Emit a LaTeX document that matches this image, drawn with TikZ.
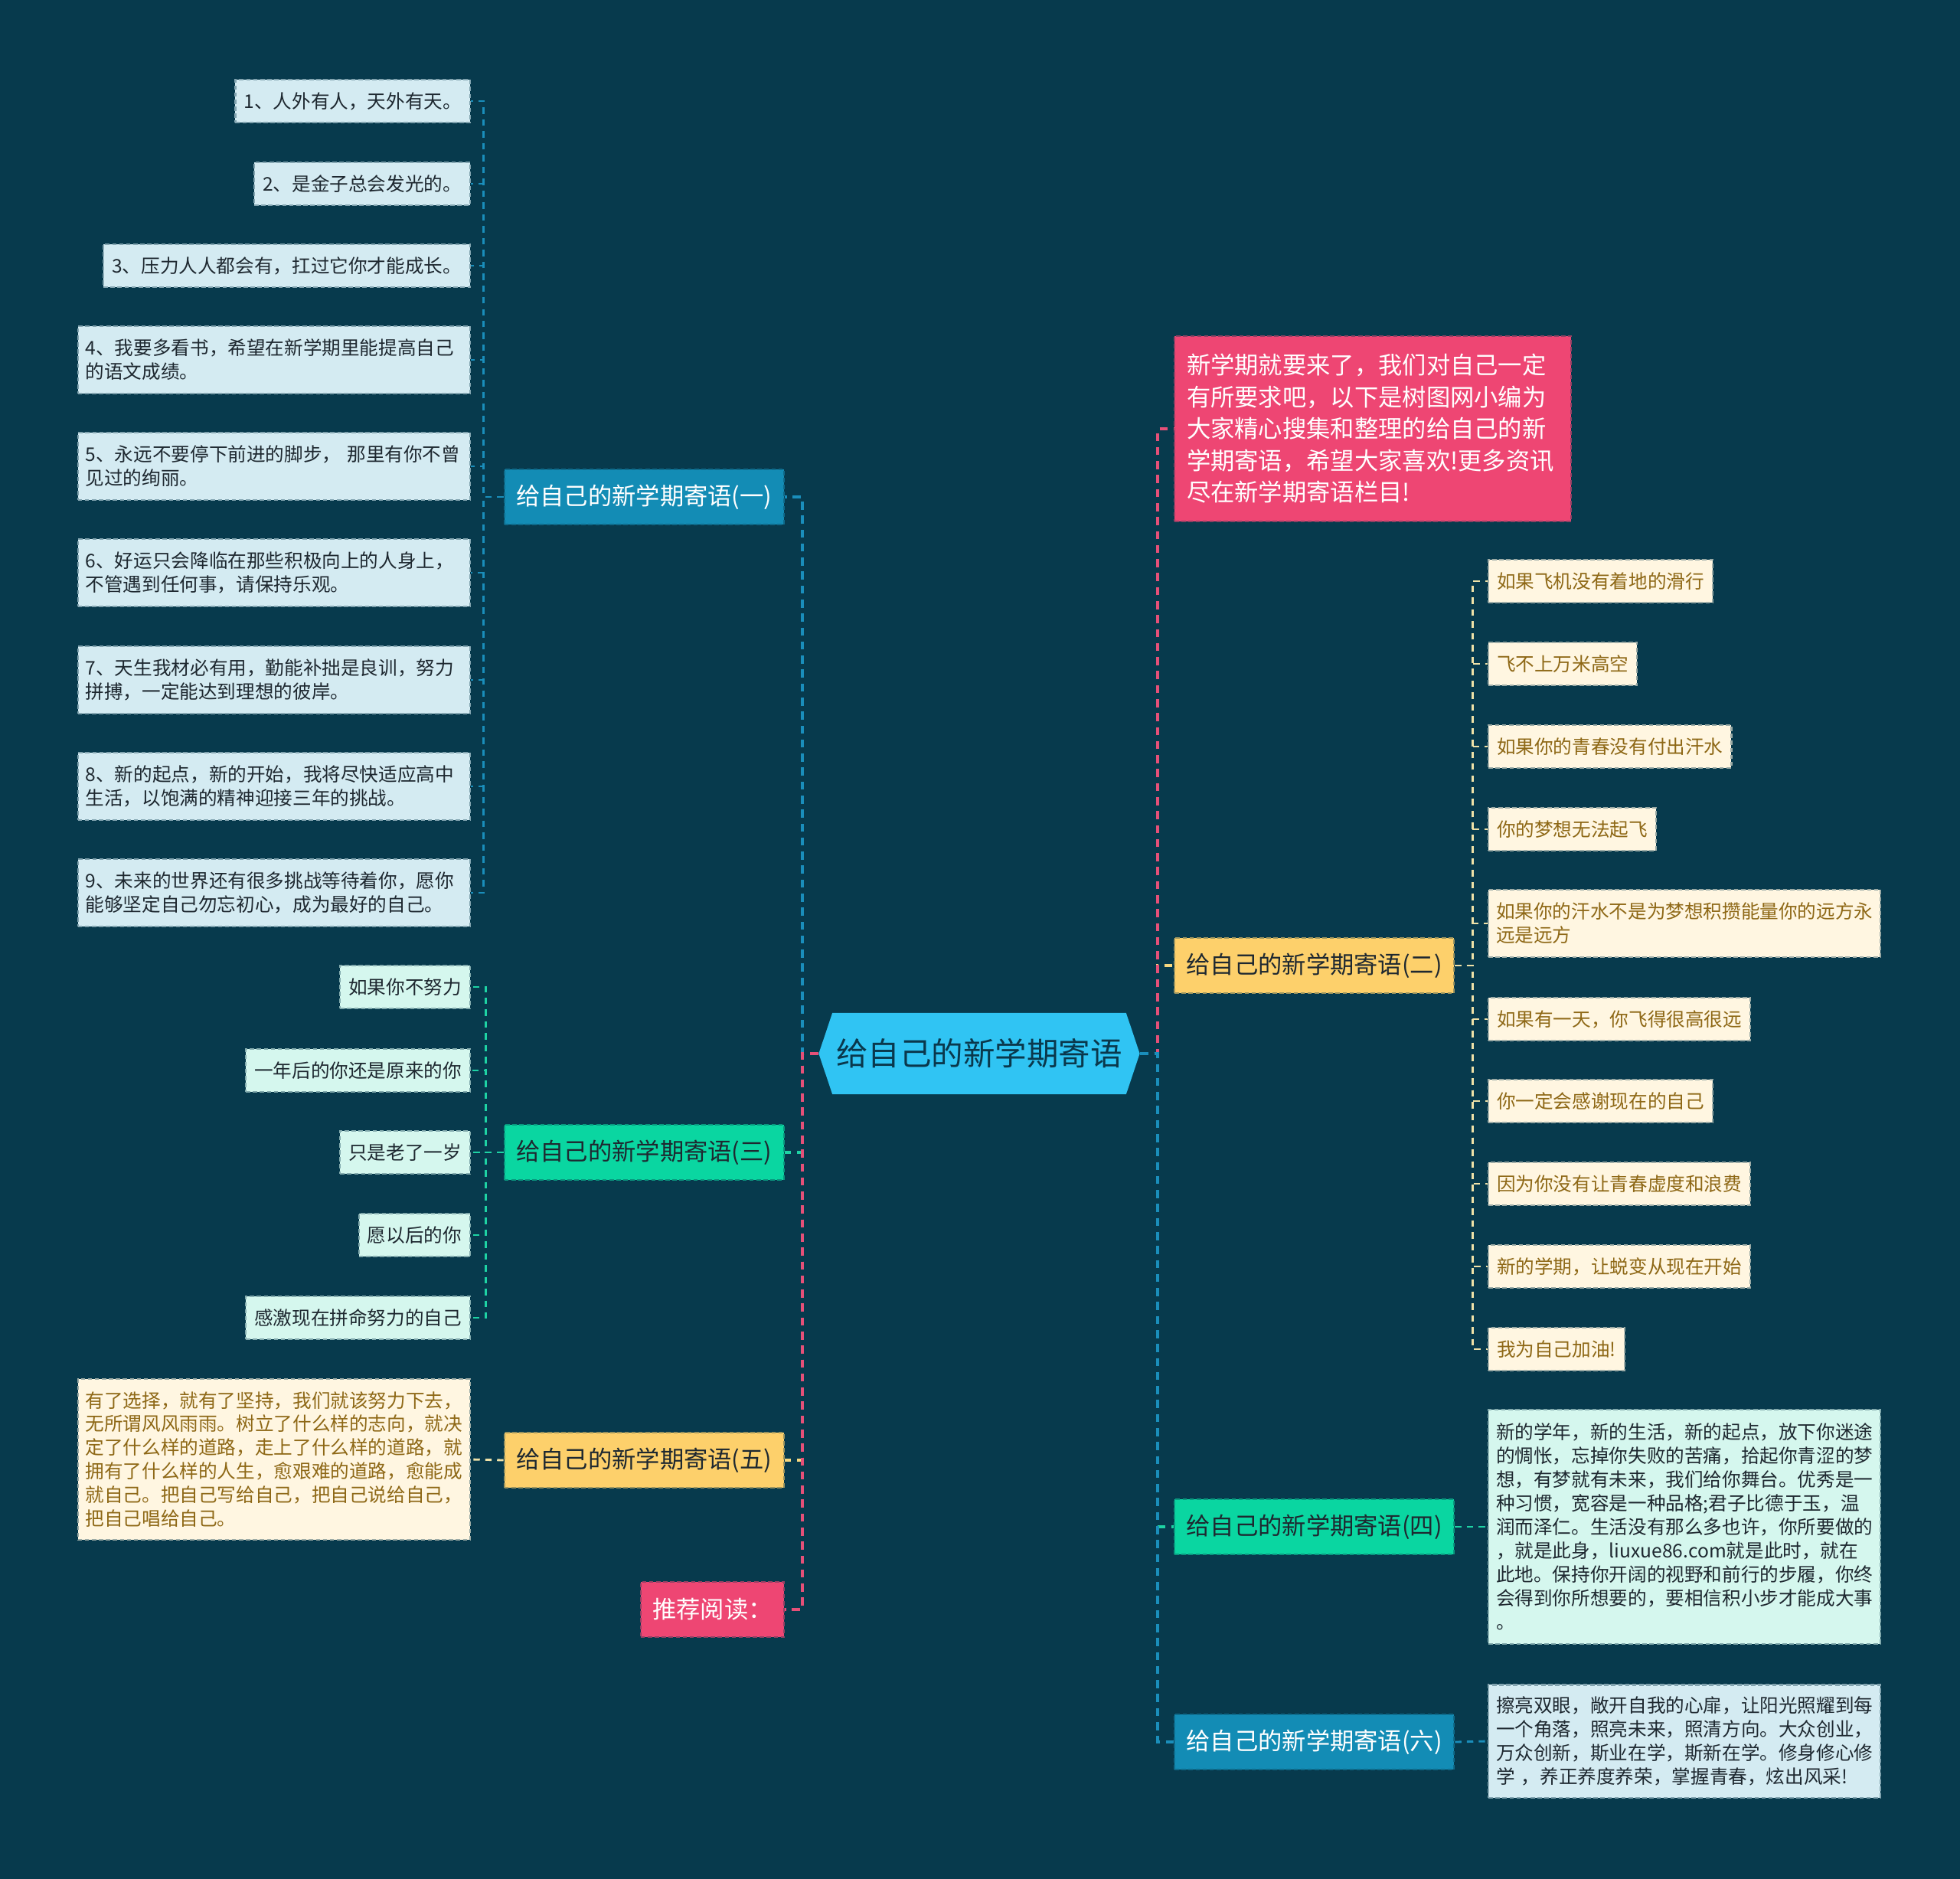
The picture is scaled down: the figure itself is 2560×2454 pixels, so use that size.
\documentclass[tikz,border=0pt]{standalone}
\usepackage{fontspec}
\setmainfont{Noto Sans CJK SC}
\usetikzlibrary{shapes.symbols}

\definecolor{bgc}{RGB}{7,58,77}
\definecolor{hub}{RGB}{48,196,243}
\definecolor{hubtxt}{RGB}{10,56,76}
\definecolor{blu}{RGB}{19,140,181}
\definecolor{grn}{RGB}{10,214,161}
\definecolor{yel}{RGB}{253,208,107}
\definecolor{pnk}{RGB}{238,70,115}
\definecolor{lfblu}{RGB}{212,235,242}
\definecolor{lfgrn}{RGB}{213,247,238}
\definecolor{lfyel}{RGB}{255,246,225}
\definecolor{brown}{RGB}{142,104,22}
\definecolor{darktxt}{RGB}{30,40,48}
\definecolor{lnblu}{RGB}{26,142,187}
\definecolor{lnpnk}{RGB}{229,80,120}
\definecolor{lnyel}{RGB}{246,216,128}
\definecolor{lncrm}{RGB}{240,226,168}
\definecolor{lngrn}{RGB}{30,211,164}

\begin{document}
\begin{tikzpicture}[
  x=0.01cm, y=-0.01cm,
  every node/.style={font=\fontsize{7}{8.8}\selectfont, inner ysep=0pt},
  box/.style={fill=#1, draw=#1!60!bgc, dash pattern=on 1.6pt off 1pt, line width=0.6pt},
  leaf/.style={inner xsep=0.11cm, minimum height=0.56cm},
  para/.style={align=left, text width=4.92cm, inner xsep=0.1cm, minimum height=0.88cm},
  branch/.style={minimum width=3.65cm, minimum height=0.72cm, inner xsep=0pt, font=\fontsize{8.9}{10}\selectfont},
  main/.style={draw=#1, line width=1.1pt, dash pattern=on 3pt off 2.2pt},
  sub/.style={draw=#1, line width=0.8pt, dash pattern=on 2.4pt off 2pt}
]
\fill[bgc] (0,0) rectangle (2560,2454);
\useasboundingbox (0,0) rectangle (2560,2454);

\node[shape=signal, signal to=west and east, signal pointer angle=143, fill=hub, text=hubtxt,
  minimum width=4.19cm, minimum height=1.06cm, inner xsep=0pt,
  font=\fontsize{11.8}{14}\selectfont] (hub) at (1279,1376) {给自己的新学期寄语};

\node[box=blu, branch, text=white, anchor=east] (b1) at (1025,649) {给自己的新学期寄语(一)};
\node[box=grn, branch, text=darktxt, anchor=east] (b3) at (1025,1505) {给自己的新学期寄语(三)};
\node[box=yel, branch, text=darktxt, anchor=east] (b5) at (1025,1907) {给自己的新学期寄语(五)};
\node[box=pnk, branch, text=white, anchor=east, minimum width=1.87cm] (b7) at (1025,2102) {推荐阅读：};

\node[box=pnk, text=white, anchor=west, align=left, text width=4.86cm, inner xsep=0.16cm,
  minimum height=2.42cm, font=\fontsize{8.9}{11.8}\selectfont] (intro) at (1533,560)
  {新学期就要来了，我们对自己一定\\有所要求吧，以下是树图网小编为\\大家精心搜集和整理的给自己的新\\学期寄语，希望大家喜欢!更多资讯\\尽在新学期寄语栏目!};
\node[box=yel, branch, text=darktxt, anchor=west] (b2) at (1533,1261) {给自己的新学期寄语(二)};
\node[box=grn, branch, text=darktxt, anchor=west] (b4) at (1533,1994) {给自己的新学期寄语(四)};
\node[box=blu, branch, text=white, anchor=west] (b6) at (1533,2275) {给自己的新学期寄语(六)};

\node[box=lfblu, leaf, text=darktxt, anchor=east] (a1) at (615,132) {1、人外有人，天外有天。};
\node[box=lfblu, leaf, text=darktxt, anchor=east] (a2) at (615,240) {2、是金子总会发光的。};
\node[box=lfblu, leaf, text=darktxt, anchor=east] (a3) at (615,347) {3、压力人人都会有，扛过它你才能成长。};
\node[box=lfblu, para, text=darktxt, anchor=east] (a4) at (615,470) {4、我要多看书，希望在新学期里能提高自己\\的语文成绩。};
\node[box=lfblu, para, text=darktxt, anchor=east] (a5) at (615,609) {5、永远不要停下前进的脚步， 那里有你不曾\\见过的绚丽。};
\node[box=lfblu, para, text=darktxt, anchor=east] (a6) at (615,748) {6、好运只会降临在那些积极向上的人身上，\\不管遇到任何事，请保持乐观。};
\node[box=lfblu, para, text=darktxt, anchor=east] (a7) at (615,888) {7、天生我材必有用，勤能补拙是良训，努力\\拼搏，一定能达到理想的彼岸。};
\node[box=lfblu, para, text=darktxt, anchor=east] (a8) at (615,1027) {8、新的起点，新的开始，我将尽快适应高中\\生活，以饱满的精神迎接三年的挑战。};
\node[box=lfblu, para, text=darktxt, anchor=east] (a9) at (615,1166) {9、未来的世界还有很多挑战等待着你，愿你\\能够坚定自己勿忘初心，成为最好的自己。};

\node[box=lfgrn, leaf, text=darktxt, anchor=east] (e1) at (615,1289) {如果你不努力};
\node[box=lfgrn, leaf, text=darktxt, anchor=east] (e2) at (615,1398) {一年后的你还是原来的你};
\node[box=lfgrn, leaf, text=darktxt, anchor=east] (e3) at (615,1505) {只是老了一岁};
\node[box=lfgrn, leaf, text=darktxt, anchor=east] (e4) at (615,1613) {愿以后的你};
\node[box=lfgrn, leaf, text=darktxt, anchor=east] (e5) at (615,1721) {感激现在拼命努力的自己};

\node[box=lfyel, para, text=brown, anchor=east, minimum height=2.10cm] (f1) at (615,1906)
  {有了选择，就有了坚持，我们就该努力下去，\\无所谓风风雨雨。树立了什么样的志向，就决\\定了什么样的道路，走上了什么样的道路，就\\拥有了什么样的人生，愈艰难的道路，愈能成\\就自己。把自己写给自己，把自己说给自己，\\把自己唱给自己。};

\node[box=lfyel, leaf, text=brown, anchor=west] (d1) at (1943,759) {如果飞机没有着地的滑行};
\node[box=lfyel, leaf, text=brown, anchor=west] (d2) at (1943,867) {飞不上万米高空};
\node[box=lfyel, leaf, text=brown, anchor=west] (d3) at (1943,975) {如果你的青春没有付出汗水};
\node[box=lfyel, leaf, text=brown, anchor=west] (d4) at (1943,1083) {你的梦想无法起飞};
\node[box=lfyel, para, text=brown, anchor=west] (d5) at (1943,1206) {如果你的汗水不是为梦想积攒能量你的远方永\\远是远方};
\node[box=lfyel, leaf, text=brown, anchor=west] (d6) at (1943,1331) {如果有一天，你飞得很高很远};
\node[box=lfyel, leaf, text=brown, anchor=west] (d7) at (1943,1438) {你一定会感谢现在的自己};
\node[box=lfyel, leaf, text=brown, anchor=west] (d8) at (1943,1546) {因为你没有让青春虚度和浪费};
\node[box=lfyel, leaf, text=brown, anchor=west] (d9) at (1943,1654) {新的学期，让蜕变从现在开始};
\node[box=lfyel, leaf, text=brown, anchor=west] (d10) at (1943,1762) {我为自己加油!};

\node[box=lfgrn, para, text=darktxt, anchor=west, minimum height=3.05cm] (g4) at (1943,1994)
  {新的学年，新的生活，新的起点，放下你迷途\\的惆怅，忘掉你失败的苦痛，拾起你青涩的梦\\想，有梦就有未来，我们给你舞台。优秀是一\\种习惯，宽容是一种品格;君子比德于玉，温\\润而泽仁。生活没有那么多也许，你所要做的\\，就是此身，liuxue86.com就是此时，就在\\此地。保持你开阔的视野和前行的步履，你终\\会得到你所想要的，要相信积小步才能成大事\\。};
\node[box=lfblu, para, text=darktxt, anchor=west, minimum height=1.47cm] (g6) at (1943,2274)
  {擦亮双眼，敞开自我的心扉，让阳光照耀到每\\一个角落，照亮未来，照清方向。大众创业，\\万众创新，斯业在学，斯新在学。修身修心修\\学 ，养正养度养荣，掌握青春，炫出风采!};

\draw[main=lnblu] (hub.west) -- ++(-21,0) |- (b1.east);
\draw[main=lnyel] (hub.west) -- ++(-21,0) |- (b5.east);
\draw[main=lngrn] (hub.west) -- ++(-21,0) |- (b3.east);
\draw[main=lnpnk] (hub.west) -- ++(-21,0) |- (b7.east);
\draw[main=lnyel] (hub.east) -- ++(23,0) |- (b2.west);
\draw[main=lnpnk] (hub.east) -- ++(23,0) |- (intro.west);
\draw[main=lngrn] (hub.east) -- ++(23,0) |- (b4.west);
\draw[main=lnblu] (hub.east) -- ++(23,0) |- (b6.west);

\foreach \n in {a1,a2,a3,a4,a5,a6,a7,a8,a9}
  \draw[sub=lnblu] (b1.west) -- ++(-26,0) |- (\n.east);
\foreach \n in {e1,e2,e3,e4,e5}
  \draw[sub=lngrn] (b3.west) -- ++(-23,0) |- (\n.east);
\draw[sub=lncrm] (b5.west) -- (f1.east);
\foreach \n in {d1,d2,d3,d4,d5,d6,d7,d8,d9,d10}
  \draw[sub=lncrm] (b2.east) -- ++(23,0) |- (\n.west);
\draw[sub=lngrn] (b4.east) -- (g4.west);
\draw[sub=lnblu] (b6.east) -- (g6.west);
\end{tikzpicture}
\end{document}
